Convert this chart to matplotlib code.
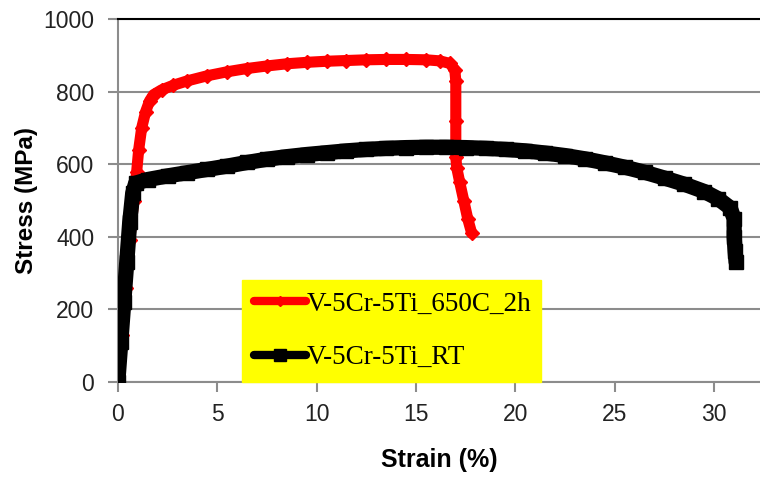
"""Stress-strain curves for V-5Cr-5Ti, as-received vs. 650C/2h."""

import matplotlib
matplotlib.use("Agg")
import matplotlib.pyplot as plt

# V-5Cr-5Ti_650C_2h (red)
strain_650 = [0.0, 0.2, 0.4, 0.6, 0.8, 0.95, 1.05, 1.2, 1.4, 1.6, 1.8, 2.2, 2.8, 3.5,
              4.5, 5.5, 6.5, 7.5, 8.5, 9.5, 10.5, 11.5, 12.5, 13.5, 14.5, 15.5,
              16.2, 16.7, 16.95, 17.0, 17.0, 17.0, 17.05, 17.2, 17.4, 17.6, 17.8]
stress_650 = [0, 130, 260, 390, 500, 580, 640, 700, 745, 775, 792, 805, 818, 830,
              844, 855, 864, 871, 877, 881, 884, 886, 888, 889, 889, 888,
              885, 878, 860, 830, 720, 620, 590, 550, 500, 450, 410]

# V-5Cr-5Ti_RT (black)
strain_rt = [0.0, 0.15, 0.3, 0.45, 0.6, 0.75, 0.9, 1.5, 2.5, 3.5, 4.5, 5.5, 6.5,
             7.5, 8.5, 9.5, 10.5, 11.5, 12.5, 13.5, 14.5, 15.5, 16.5, 17.5, 18.5,
             19.5, 20.5, 21.5, 22.5, 23.5, 24.5, 25.5, 26.5, 27.5, 28.5, 29.5,
             30.2, 30.8, 31.0, 31.0, 31.05, 31.1]
stress_rt = [0, 110, 220, 330, 440, 520, 548, 558, 568, 577, 586, 595, 605,
             614, 621, 627, 632, 637, 641, 644, 646, 647, 647, 646, 644,
             641, 637, 631, 624, 615, 604, 592, 578, 562, 545, 525,
             505, 480, 450, 400, 360, 330]

labels = ["V-5Cr-5Ti_650C_2h", "V-5Cr-5Ti_RT"]
x_ticks = [0, 5, 10, 15, 20, 25, 30]
y_ticks = [0, 200, 400, 600, 800, 1000]

grey = "#8c8c8c"
sans = "Liberation Sans"

fig = plt.figure(figsize=(7.6, 4.79), dpi=100)
ax = fig.add_axes([0.155, 0.2025, 0.845, 0.7575])

ax.plot(strain_rt, stress_rt, color="black", linewidth=11, marker="s",
        markersize=10, solid_capstyle="round", solid_joinstyle="round",
        label=labels[1], zorder=3)
ax.plot(strain_650, stress_650, color="red", linewidth=8, marker="D",
        markersize=7, solid_capstyle="round", solid_joinstyle="round",
        label=labels[0], zorder=2)

ax.set_xlim(0, 32.3)
ax.set_ylim(0, 1000)
ax.set_xticks(x_ticks)
ax.set_yticks(y_ticks)
ax.yaxis.grid(True, color=grey, linewidth=1.5)
ax.set_axisbelow(True)

for side in ("left", "bottom"):
    ax.spines[side].set_color(grey)
    ax.spines[side].set_linewidth(1.5)
ax.spines["top"].set_color("black")
ax.spines["top"].set_linewidth(1.5)
ax.spines["right"].set_visible(False)

ax.tick_params(axis="both", direction="out", color=grey, width=1.5, length=7,
               labelsize=16.5)
ax.tick_params(axis="y", pad=10)
ax.tick_params(axis="x", pad=8)
for lab in ax.get_xticklabels() + ax.get_yticklabels():
    lab.set_fontfamily(sans)
    lab.set_color("#222222")

ax.set_xlabel("Strain (%)", fontsize=18, fontweight="bold", family=sans,
              labelpad=16)
ax.set_ylabel("Stress (MPa)", fontsize=17.5, fontweight="bold", family=sans,
              labelpad=4)

handles, names = ax.get_legend_handles_labels()
leg = ax.legend(handles[::-1], names[::-1], loc="lower left",
                bbox_to_anchor=(0.193, 0.0, 0.466, 0.275), mode="expand",
                frameon=True, fancybox=False, facecolor="yellow",
                edgecolor="yellow", framealpha=1, borderaxespad=0,
                prop={"family": "Liberation Serif", "size": 19.5},
                handlelength=1.95, handletextpad=0.0, labelspacing=1.05,
                borderpad=0.44, markerscale=0.8)
for line in leg.get_lines():
    line.set_linewidth(6)
leg.set_zorder(5)

fig.savefig("out.png", dpi=100)
